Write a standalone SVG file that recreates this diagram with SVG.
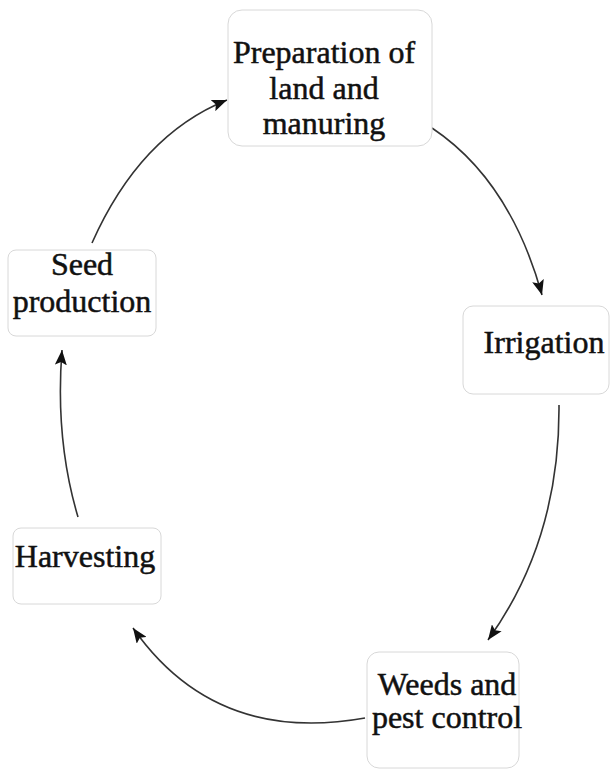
<svg xmlns="http://www.w3.org/2000/svg" width="612" height="772" viewBox="0 0 612 772">
<style>
.box{fill:#fff;stroke:#d8d8d8;stroke-width:1}
.lbl{font-family:"Liberation Serif","Times New Roman",serif;font-size:32px;fill:#111;stroke:#111;stroke-width:0.5;text-anchor:middle}
.con{fill:none;stroke:#333;stroke-width:1.6}
</style>
<defs>
<marker id="ah" markerUnits="userSpaceOnUse" markerWidth="16" markerHeight="12" refX="15" refY="6" orient="auto">
<path d="M0,0 L15,6 L0,12 L3,6 Z" fill="#111"/>
</marker>
</defs>
<rect width="612" height="772" fill="#fff"/>
<g id="connectors">
<path class="con" d="M92,243 Q140,135 227,100" marker-end="url(#ah)"/>
<path class="con" d="M432,128 Q510,180 542,295" marker-end="url(#ah)"/>
<path class="con" d="M559,405 Q560,540 488,640" marker-end="url(#ah)"/>
<path class="con" d="M365,718 Q215,745 133,628" marker-end="url(#ah)"/>
<path class="con" d="M78,517 Q55,440 62,350" stroke-width="2.4" marker-end="url(#ah)"/>
</g>
<g id="node-preparation">
<rect class="box" x="228" y="10" width="204" height="136" rx="14"/>
<text class="lbl" x="324" y="63">Preparation of</text>
<text class="lbl" x="324" y="99">land and</text>
<text class="lbl" x="324" y="134">manuring</text>
</g>
<g id="node-irrigation">
<rect class="box" x="463" y="306" width="146" height="88" rx="10"/>
<text class="lbl" x="544" y="353">Irrigation</text>
</g>
<g id="node-weeds">
<rect class="box" x="367" y="652" width="152" height="116" rx="12"/>
<text class="lbl" x="447" y="695">Weeds and</text>
<text class="lbl" x="447" y="728">pest control</text>
</g>
<g id="node-harvesting">
<rect class="box" x="13" y="528" width="148" height="76" rx="8"/>
<text class="lbl" x="85" y="567">Harvesting</text>
</g>
<g id="node-seed">
<rect class="box" x="8" y="250" width="148" height="86" rx="8"/>
<text class="lbl" x="82" y="275">Seed</text>
<text class="lbl" x="82" y="312">production</text>
</g>
</svg>
